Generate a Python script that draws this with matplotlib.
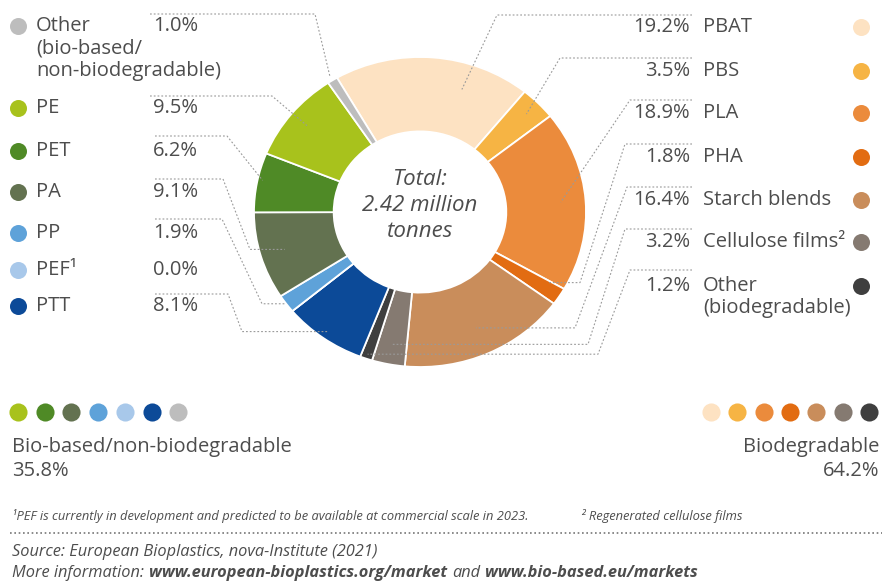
import numpy as np
import matplotlib.pyplot as plt

plt.rcParams['font.family'] = ['Open Sans', 'DejaVu Sans']

# slices, clockwise from the top-left (PBAT first)
names = ["PBAT", "PBS", "PLA", "PHA", "Starch blends", "Cellulose films\u00b2",
         "Other\n(biodegradable)", "PTT", "PEF\u00b9", "PP", "PA", "PET", "PE",
         "Other\n(bio-based/\nnon-biodegradable)"]
shares = [19.2, 3.5, 18.9, 1.8, 16.4, 3.2, 1.2, 8.1, 0.0, 1.9, 9.1, 6.2, 9.5, 1.0]
colors = ["#fde2c2", "#f6b444", "#eb8b3c", "#e26c12", "#c98d5b", "#857a71", "#3f3f3f",
          "#0c4a98", "#a8c8ea", "#5ea2d9", "#637250", "#4f8a26", "#a8c21c", "#bdbdbd"]

left_order = [13, 12, 11, 10, 9, 8, 7]      # legend rows on the left
right_order = [0, 1, 2, 3, 4, 5, 6]         # legend rows on the right
bottom_left = [12, 11, 10, 9, 8, 7, 13]
bottom_right = [0, 1, 2, 3, 4, 5, 6]

groups = ["Bio-based/non-biodegradable", "Biodegradable"]
group_totals = [35.8, 64.2]

W, H = 882, 584
TXT = "#4d4d4d"
LINE = "#9a9a9a"

fig = plt.figure(figsize=(W / 100, H / 100), dpi=100)

# donut
cx, cy, rx, ry = 420, 212, 166, 155
axp = fig.add_axes([(cx - rx) / W, 1 - (cy + ry) / H, 2 * rx / W, 2 * ry / H])
wedges, _ = axp.pie(shares, colors=colors, startangle=120, counterclock=False,
                    radius=1.0, wedgeprops=dict(width=0.48, edgecolor="white", linewidth=1.3))
axp.set_aspect("auto")
axp.set_xlim(-1, 1)
axp.set_ylim(-1, 1)
axp.axis("off")
axp.text(0, 0.04, "Total:\n2.42 million\ntonnes", ha="center", va="center",
         fontsize=16, style="italic", color=TXT, linespacing=1.32)

# overlay in pixel coordinates
ax = fig.add_axes([0, 0, 1, 1], zorder=5)
ax.set_xlim(0, W)
ax.set_ylim(H, 0)
ax.axis("off")
ax.patch.set_alpha(0)


def wedge_point(i, frac, r):
    w = wedges[i]
    th = np.radians(w.theta2 - frac * (w.theta2 - w.theta1))
    d = axp.transData.transform((r * np.cos(th), r * np.sin(th)))
    return ax.transData.inverted().transform(d)


def leader(i, x0, y0, xk, frac, r, xe=None):
    ex, ey = wedge_point(i, frac, r)
    xs = [x0, xk]
    ys = [y0, y0]
    if xe is not None:
        xs.append(xe)
        ys.append(ey)
    xs.append(ex)
    ys.append(ey)
    ax.plot(xs, ys, color=LINE, lw=0.8, ls=(0, (1.6, 1.8)))


FS = 14.5
left_y = [26, 108, 151, 192, 233, 270, 306]
for i, y in zip(left_order, left_y):
    ax.scatter(18, y, s=150, color=colors[i], lw=0)
    for k, part in enumerate(names[i].split("\n")):
        ax.text(36, y + k * 22.5, part, fontsize=FS, color=TXT, va="center", ha="left")
    ax.text(153, y, f"{shares[i]:.1f}%", fontsize=FS, color=TXT, va="center", ha="left")

right_y = [27, 71, 113, 157, 200, 242, 286]
for i, y in zip(right_order, right_y):
    ax.scatter(861, y, s=150, color=colors[i], lw=0)
    for k, part in enumerate(names[i].split("\n")):
        ax.text(703, y + k * 22.5, part, fontsize=FS, color=TXT, va="center", ha="left")
    ax.text(690, y, f"{shares[i]:.1f}%", fontsize=FS, color=TXT, va="center", ha="right")

# leader lines, left side
leader(13, 150, 14, 315, 0.5, 1.03)
leader(12, 150, 96, 272, 0.5, 0.88)
leader(11, 155, 136, 227, 0.55, 0.97)
leader(10, 155, 179, 223, 0.5, 0.85, xe=250)
leader(9, 155, 219, 222, 0.5, 1.0, xe=262)
leader(7, 155, 294, 228, 0.5, 0.95, xe=242)
# leader lines, right side
leader(0, 692, 15, 497, 0.69, 0.83)
leader(1, 692, 58, 560, 0.5, 0.9)
leader(2, 692, 100, 630, 0.5, 0.85)
leader(3, 692, 144, 625, 0.1, 0.9, xe=580)
leader(4, 692, 187, 627, 0.5, 0.82, xe=575)
leader(5, 692, 229, 625, 0.5, 0.87, xe=588)
leader(6, 692, 270, 630, 0.5, 0.97, xe=598)

# group dots
for k, i in enumerate(bottom_left):
    ax.scatter(18 + k * 26.7, 412, s=170, color=colors[i], lw=0)
for k, i in enumerate(bottom_right):
    ax.scatter(711 + k * 26.3, 412, s=170, color=colors[i], lw=0)

ax.text(12, 447, groups[0], fontsize=14.5, color=TXT, va="center", ha="left")
ax.text(12, 471, f"{group_totals[0]:.1f}%", fontsize=14.5, color=TXT, va="center", ha="left")
ax.text(879, 447, groups[1], fontsize=14.5, color=TXT, va="center", ha="right")
ax.text(879, 471, f"{group_totals[1]:.1f}%", fontsize=14.5, color=TXT, va="center", ha="right")

# footnotes
ax.text(12, 516, "\u00b9PEF is currently in development and predicted to be available at commercial scale in 2023.",
        fontsize=9.3, style="italic", color=TXT, va="center", ha="left")
ax.text(581, 516, "\u00b2 Regenerated cellulose films",
        fontsize=9.3, style="italic", color=TXT, va="center", ha="left")
ax.plot([10, W], [533, 533], color="#777777", lw=1.2, ls=(0, (1, 1.6)))

ax.text(12, 552, "Source: European Bioplastics, nova-Institute (2021)",
        fontsize=11.8, style="italic", color=TXT, va="center", ha="left")
parts = [("More information:", "normal"), ("www.european-bioplastics.org/market", "bold"),
         ("and", "normal"), ("www.bio-based.eu/markets", "bold")]
prev = ax.text(12, 573, parts[0][0], fontsize=11.8, style="italic", color=TXT,
               va="center", ha="left")
for s, wgt in parts[1:]:
    prev = ax.annotate(s, xy=(1, 0.5), xycoords=prev, xytext=(3.5, 0), textcoords="offset points",
                       fontsize=11.8, style="italic", fontweight=wgt, color=TXT,
                       va="center", ha="left")

fig.savefig("out.png", dpi=100)
